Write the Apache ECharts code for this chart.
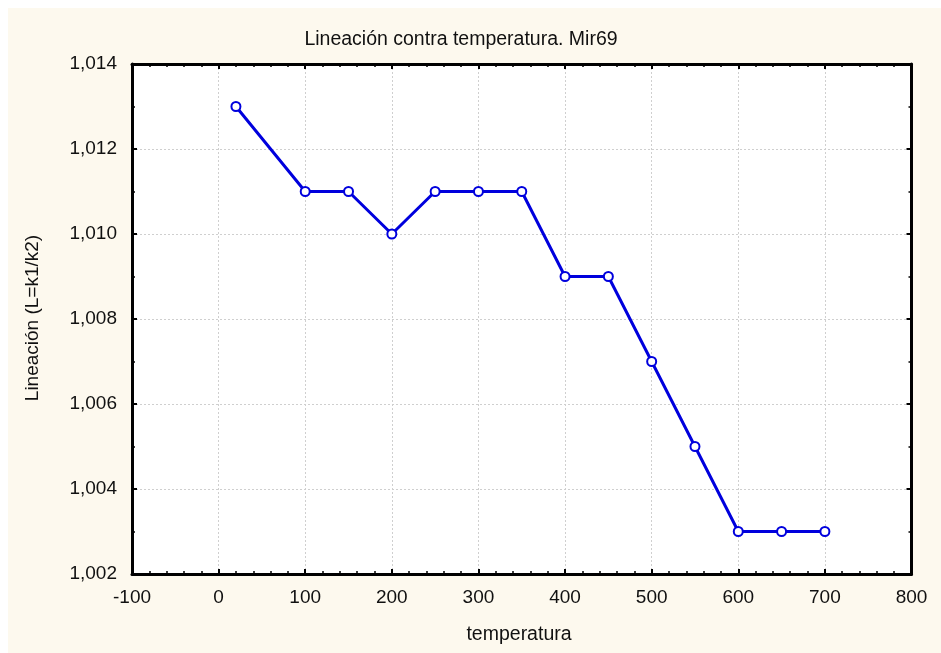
<!DOCTYPE html>
<html>
<head>
<meta charset="utf-8">
<script src="https://cdn.jsdelivr.net/npm/echarts@6/dist/echarts.min.js"></script>
<style>
html,body{margin:0;padding:0;background:#fff;}
#chart{width:941px;height:653px;}
</style>
</head>
<body>
<div id="chart"></div>
<script>
const titleText = 'Lineación contra temperatura. Mir69';
const xName = 'temperatura';
const yName = 'Lineación (L=k1/k2)';
const temperatures = [20, 100, 150, 200, 250, 300, 350, 400, 450, 500, 550, 600, 650, 700];
const lineation = [1.013, 1.011, 1.011, 1.010, 1.011, 1.011, 1.011, 1.009, 1.009, 1.007, 1.005, 1.003, 1.003, 1.003];
const xMin = -100, xMax = 800, xStep = 100;
const yMin = 1.002, yMax = 1.014, yStep = 0.002;

const points = temperatures.map((t, i) => [t, lineation[i]]);
const font = 'Liberation Sans, Arial, sans-serif';
const fmtY = v => v.toFixed(3).replace('.', ',');

const chart = echarts.init(document.getElementById('chart'), null, {renderer: 'canvas'});

const axisBase = {
  axisLine: {show: true, onZero: false, lineStyle: {color: '#000', width: 3}},
  axisTick: {show: true, inside: true, length: 5, lineStyle: {color: '#000', width: 2}},
  minorTick: {show: true, length: 3, lineStyle: {color: '#000', width: 1.5}}
};

chart.setOption({
  animation: false,
  backgroundColor: '#ffffff',
  graphic: [
    {type: 'rect', z: -10, silent: true, shape: {x: 8, y: 8, width: 941, height: 653}, style: {fill: '#FDF9EE'}},
    {type: 'rect', z: -9, silent: true, shape: {x: 132, y: 64, width: 779.5, height: 510}, style: {fill: '#ffffff'}},
    {type: 'text', x: 461, y: 39.5, style: {text: titleText, fontFamily: font, fontSize: 19.5, fill: '#111', align: 'center', verticalAlign: 'middle'}},
    {type: 'text', x: 519, y: 635, style: {text: xName, fontFamily: font, fontSize: 19.5, fill: '#111', align: 'center', verticalAlign: 'middle'}},
    {type: 'text', x: 33, y: 318, rotation: Math.PI / 2, style: {text: yName, fontFamily: font, fontSize: 19, fill: '#111', align: 'center', verticalAlign: 'middle'}}
  ],
  grid: {left: 132, right: 29.5, top: 64, bottom: 79, containLabel: false},
  xAxis: [
    Object.assign({}, axisBase, {
      type: 'value', position: 'bottom', min: xMin, max: xMax, interval: xStep,
      minorTick: Object.assign({}, axisBase.minorTick, {splitNumber: 5}),
      axisLabel: {margin: 14, fontFamily: font, fontSize: 19, color: '#111'},
      splitLine: {show: true, lineStyle: {color: '#cfcfcf', width: 1, type: [2, 2]}}
    }),
    Object.assign({}, axisBase, {
      type: 'value', position: 'top', min: xMin, max: xMax, interval: xStep,
      minorTick: Object.assign({}, axisBase.minorTick, {splitNumber: 5}),
      axisLabel: {show: false}, splitLine: {show: false}
    })
  ],
  yAxis: [
    Object.assign({}, axisBase, {
      type: 'value', position: 'left', min: yMin, max: yMax, interval: yStep,
      minorTick: Object.assign({}, axisBase.minorTick, {splitNumber: 2}),
      axisLabel: {margin: 15, fontFamily: font, fontSize: 19, color: '#111', formatter: fmtY},
      splitLine: {show: true, lineStyle: {color: '#cfcfcf', width: 1, type: [2, 2]}}
    }),
    Object.assign({}, axisBase, {
      type: 'value', position: 'right', min: yMin, max: yMax, interval: yStep,
      minorTick: Object.assign({}, axisBase.minorTick, {splitNumber: 2}),
      axisLabel: {show: false}, splitLine: {show: false}
    })
  ],
  series: [{
    type: 'line',
    xAxisIndex: 0, yAxisIndex: 0,
    data: points,
    symbol: 'circle',
    symbolSize: 9,
    lineStyle: {color: '#0000DD', width: 3},
    itemStyle: {color: '#ffffff', borderColor: '#0000DD', borderWidth: 2},
    z: 5
  }]
});
</script>
</body>
</html>
